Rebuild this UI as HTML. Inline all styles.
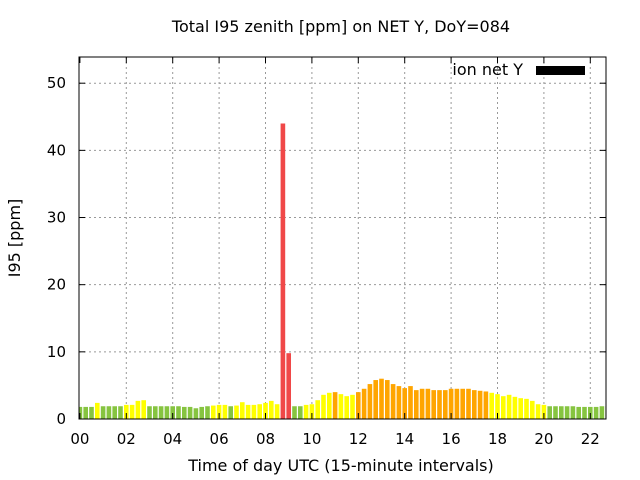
<!DOCTYPE html>
<html><head><meta charset="utf-8"><style>
body{margin:0;background:#fff}
svg{display:block;font-family:"DejaVu Sans","Liberation Sans",sans-serif}
</style></head><body>
<svg id="chart" width="640" height="480" viewBox="0 0 640 480">
<text x="341" y="32" font-size="16" text-anchor="middle">Total I95 zenith [ppm] on NET Y, DoY=084</text>
<text transform="translate(20,238) rotate(-90)" font-size="16" text-anchor="middle">I95 [ppm]</text>
<text x="341" y="471" font-size="16" text-anchor="middle">Time of day UTC (15-minute intervals)</text>
<g id="grid"></g><g id="bars"></g><g id="axes"></g>
<g>
<text x="523" y="75" font-size="16" text-anchor="end">ion net Y</text>
<rect x="536" y="66" width="49" height="9" fill="#000"/>
</g>
</svg>
<script>
const values=[1.8,1.8,1.8,2.4,1.9,1.9,1.9,1.9,2.1,2.1,2.7,2.8,1.9,1.9,1.9,1.9,1.9,1.9,1.8,1.8,1.6,1.8,1.9,2.0,2.1,2.1,1.9,2.0,2.5,2.1,2.1,2.2,2.4,2.7,2.2,44,9.8,1.9,1.9,2.1,2.2,2.8,3.6,3.9,4.0,3.7,3.4,3.6,4.0,4.5,5.2,5.8,6.0,5.8,5.2,4.9,4.6,4.9,4.3,4.5,4.5,4.3,4.3,4.3,4.5,4.5,4.5,4.5,4.3,4.2,4.1,3.9,3.7,3.4,3.6,3.3,3.1,3.0,2.7,2.2,2.1,1.9,1.9,1.9,1.9,1.9,1.8,1.8,1.8,1.8,1.9,1.9];
const yTicks=[0,10,20,30,40,50];
const xTicks=["00","02","04","06","08","10","12","14","16","18","20","22"];
const L=79,R=606,T=57,B=419;
const NS="http://www.w3.org/2000/svg";
function y(v){return B-v*(B-T)/53.9;}
function x(h){return 79.9+h*23.2;}
function color(v){return v>=9?"#f04848":v>=4?"#ffa500":v>=2?"#ffff00":"#86c440";}
function mk(tag,attrs,parent){const e=document.createElementNS(NS,tag);for(const k in attrs)e.setAttribute(k,attrs[k]);parent.appendChild(e);return e;}
const grid=document.getElementById('grid'),bars=document.getElementById('bars'),axes=document.getElementById('axes');
yTicks.forEach(t=>{
 const yy=y(t);
 if(t>0){const g=mk('line',{x1:L,x2:R,y1:yy,y2:yy,stroke:'#999','stroke-dasharray':'2,3'},grid);
 
 }
 const tx=mk('text',{x:66,y:yy+5,'font-size':15,'text-anchor':'end'},axes);tx.textContent=t;
 
 
 mk('line',{x1:L,x2:L+6,y1:yy,y2:yy,stroke:'#000'},axes);
 mk('line',{x1:R,x2:R-6,y1:yy,y2:yy,stroke:'#000'},axes);
});
xTicks.forEach((lab,i)=>{
 const xx=x(i*2);
 if(i>0){const g=mk('line',{x1:xx,x2:xx,y1:T,y2:B,stroke:'#999','stroke-dasharray':'2,3'},grid);
 
 }
 const tx=mk('text',{x:xx,y:444,'font-size':15,'text-anchor':'middle'},axes);tx.textContent=lab;
 
 
 mk('line',{x1:xx,x2:xx,y1:B,y2:B-6,stroke:'#000'},axes);
 mk('line',{x1:xx,x2:xx,y1:T,y2:T+6,stroke:'#000'},axes);
});
values.forEach((v,i)=>{
 const cx=x(i*0.25);let x0=cx-2.3,x1=cx+2.3;
 if(x0<L)x0=L;if(x1>R)x1=R;
 const r=mk('rect',{x:x0,y:y(v),width:Math.max(0,x1-x0),height:B-y(v),fill:color(v)},bars);
 
 
});
const f=mk('rect',{x:L,y:T,width:R-L,height:B-T,fill:'none',stroke:'#000','stroke-width':1},axes);


</script>
</body></html>
